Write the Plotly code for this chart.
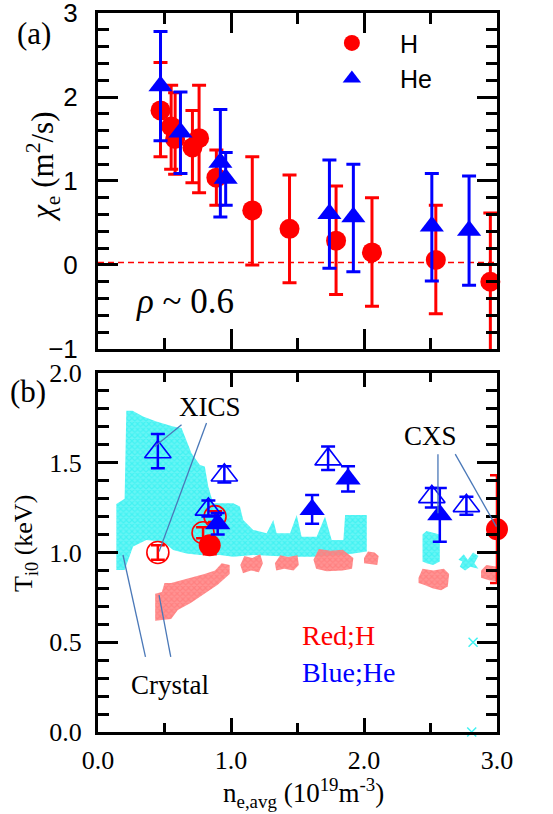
import plotly.graph_objects as go

# ---------------- panel (a): chi_e vs n_e,avg ----------------
H_NE = [0.47, 0.55, 0.58, 0.71, 0.76, 0.89, 1.16, 1.44, 1.79, 2.06, 2.54, 2.95]
H_CHI = [1.84, 1.65, 1.50, 1.40, 1.51, 1.04, 0.65, 0.43, 0.29, 0.15, 0.06, -0.20]
H_HI = [2.41, 2.14, 2.05, 1.84, 2.14, 1.37, 1.29, 1.07, 0.94, 0.80, 0.71, 0.62]
H_LO = [1.29, 1.14, 1.08, 0.98, 0.86, 0.71, 0.00, -0.21, -0.35, -0.49, -0.58, -1.02]

HE_NE = [0.47, 0.62, 0.92, 0.96, 1.74, 1.92, 2.51, 2.79]
HE_CHI = [2.13, 1.58, 1.22, 1.03, 0.61, 0.57, 0.46, 0.41]
HE_HI = [2.78, 2.06, 1.85, 1.34, 1.25, 1.20, 1.09, 1.06]
HE_LO = [1.48, 1.09, 0.57, 0.71, -0.04, -0.08, -0.19, -0.24]

ZERO_LEVEL = 0.03

# ---------------- panel (b): T_i0 vs n_e,avg ----------------
XHE_NE = [0.45, 0.83, 0.95, 1.73, 2.51, 2.77]
XHE_TI = [1.56, 1.24, 1.43, 1.52, 1.31, 1.26]
XHE_HI = [1.66, 1.29, 1.48, 1.59, 1.36, 1.31]
XHE_LO = [1.47, 1.20, 1.39, 1.46, 1.25, 1.21]
CHE_NE = [0.90, 1.61, 1.88, 2.57]
CHE_TI = [1.16, 1.24, 1.41, 1.21]
CHE_HI = [1.22, 1.32, 1.48, 1.36]
CHE_LO = [1.10, 1.16, 1.34, 1.06]
XH_NE = [0.45, 0.79, 0.88]
XH_TI = [1.00, 1.11, 1.20]
XH_HI = [1.04, 1.14, 1.23]
XH_LO = [0.96, 1.08, 1.17]
CH_NE = [0.84, 3.00]
CH_TI = [1.04, 1.13]
CH_HI = [1.08, 1.43]
CH_LO = [0.99, 0.83]

CYAN_MAIN_NE = [0.138, 0.138, 0.20, 0.213, 0.26, 0.339, 0.439, 0.565, 0.628, 0.665, 0.703, 0.766,
                0.803, 0.829, 0.866, 1.017, 1.067, 1.092, 1.167, 1.268, 1.318, 1.343, 1.444,
                1.494, 1.531, 1.644, 1.707, 1.757, 1.845, 1.858, 2.021, 2.021, 1.845, 1.619,
                1.444, 1.167, 1.017, 0.916, 0.766, 0.665, 0.565, 0.49, 0.364, 0.264, 0.226, 0.20]
CYAN_MAIN_TI = [0.903, 1.27, 1.30, 1.79, 1.79, 1.758, 1.73, 1.702, 1.693, 1.628, 1.553, 1.488,
                1.479, 1.367, 1.274, 1.274, 1.256, 1.181, 1.126, 1.107, 1.181, 1.107, 1.107,
                1.209, 1.088, 1.088, 1.20, 1.07, 1.07, 1.209, 1.209, 1.005, 0.986, 0.977,
                0.977, 0.986, 0.977, 0.986, 0.986, 0.995, 1.014, 1.06, 1.07, 1.033, 0.958, 0.902]
CYAN_B1_NE = [2.44, 2.44, 2.47, 2.52, 2.57, 2.57, 2.52, 2.47]
CYAN_B1_TI = [0.95, 1.10, 1.12, 1.11, 1.10, 0.95, 0.93, 0.94]
CYAN_B2_NE = [2.71, 2.75, 2.78, 2.82, 2.86, 2.83, 2.86, 2.80, 2.76, 2.72, 2.74]
CYAN_B2_TI = [0.96, 0.99, 0.96, 1.00, 0.98, 0.94, 0.91, 0.92, 0.90, 0.92, 0.95]
CYAN_PTS_NE = [2.82, 2.81]
CYAN_PTS_TI = [0.50, 0.00]

SAL_A_NE = [0.43, 0.55, 0.60, 0.70, 0.80, 0.90, 0.99, 0.99, 0.93, 0.88, 0.80, 0.70, 0.62, 0.55, 0.50, 0.48, 0.43]
SAL_A_TI = [0.62, 0.63, 0.68, 0.72, 0.77, 0.82, 0.88, 0.93, 0.94, 0.90, 0.88, 0.86, 0.84, 0.83, 0.83, 0.78, 0.77]
SAL_B1_NE = [1.07, 1.10, 1.16, 1.22, 1.24, 1.21, 1.15, 1.09]
SAL_B1_TI = [0.93, 0.98, 0.97, 0.99, 0.94, 0.89, 0.90, 0.885]
SAL_B2_NE = [1.33, 1.37, 1.43, 1.50, 1.51, 1.47, 1.40, 1.34]
SAL_B2_TI = [0.94, 0.985, 0.975, 0.985, 0.93, 0.90, 0.91, 0.90]
SAL_B3_NE = [1.62, 1.66, 1.75, 1.84, 1.92, 1.91, 1.84, 1.72, 1.64]
SAL_B3_TI = [0.96, 1.02, 1.01, 1.015, 0.97, 0.91, 0.90, 0.895, 0.91]
SAL_B4_NE = [2.00, 2.03, 2.08, 2.11, 2.10, 2.04, 2.00]
SAL_B4_TI = [0.97, 1.005, 1.00, 0.98, 0.93, 0.935, 0.94]
SAL_B5_NE = [2.41, 2.44, 2.52, 2.60, 2.64, 2.63, 2.58, 2.52, 2.45, 2.41]
SAL_B5_TI = [0.86, 0.91, 0.90, 0.91, 0.88, 0.81, 0.79, 0.80, 0.82, 0.83]
SAL_B6_NE = [2.88, 2.92, 3.00, 3.00, 2.94, 2.88]
SAL_B6_TI = [0.90, 0.93, 0.92, 0.84, 0.845, 0.86]

XICS_LABEL = (0.84, 1.81)
XICS_LEADS = [((0.628, 1.712), (0.427, 1.591)), ((0.816, 1.721), (0.459, 1.005))]
CXS_LABEL = (2.50, 1.65)
CXS_LEADS = [((2.556, 1.548), (2.556, 1.219)), ((2.686, 1.548), (2.995, 1.144))]
CRYSTAL_LABEL = (0.54, 0.26)
CRYSTAL_LEADS = [((0.357, 0.419), (0.188, 0.986)), ((0.547, 0.419), (0.459, 0.763))]
REDH_LABEL = (1.81, 0.54)
BLUEHE_LABEL = (1.88, 0.33)
RHO_LABEL = (0.654, -0.44)

RED = '#ff0000'
BLUE = '#0000ff'
CYAN = 'rgb(66,242,242)'
SALMON = 'rgb(255,128,128)'
LEAD = '#4a78b8'
INK = 'black'
SERIF = 'Liberation Serif'
SANS = 'Liberation Sans'


def errs(v, hi, lo):
    return [h - y for h, y in zip(hi, v)], [y - l for y, l in zip(v, lo)]


fig = go.Figure()

fig.add_shape(type='line', xref='x', yref='y', x0=0, x1=3, y0=ZERO_LEVEL, y1=ZERO_LEVEL, opacity=1,
              line=dict(color=RED, width=1.5, dash='6px,4px'), layer='below')

p, m = errs(H_CHI, H_HI, H_LO)
fig.add_trace(go.Scatter(x=H_NE, y=H_CHI, mode='markers', name='H', xaxis='x', yaxis='y',
                         marker=dict(symbol='circle', size=20, color=RED),
                         error_y=dict(type='data', array=p, arrayminus=m, color=RED, thickness=3, width=7),
                         cliponaxis=False))
p, m = errs(HE_CHI, HE_HI, HE_LO)
fig.add_trace(go.Scatter(x=HE_NE, y=HE_CHI, mode='markers', name='He', xaxis='x', yaxis='y',
                         marker=dict(symbol='triangle-up', size=21, color=BLUE),
                         error_y=dict(type='data', array=p, arrayminus=m, color=BLUE, thickness=3, width=7),
                         cliponaxis=False))


def cloud(xs, ys, color, bg):
    fig.add_trace(go.Scatter(x=xs, y=ys, mode='lines', fill='toself', xaxis='x2', yaxis='y2',
                             line=dict(width=0, color=color), fillcolor=bg,
                             fillpattern=dict(shape='x', fgcolor=color, bgcolor=bg, size=4, solidity=0.5),
                             hoverinfo='skip', showlegend=False))


cyan_bg = 'rgba(66,242,242,0.8)'
sal_bg = 'rgba(255,128,128,0.85)'
cloud(CYAN_MAIN_NE, CYAN_MAIN_TI, CYAN, cyan_bg)
cloud(CYAN_B1_NE, CYAN_B1_TI, CYAN, cyan_bg)
cloud(CYAN_B2_NE, CYAN_B2_TI, CYAN, cyan_bg)
for xs, ys in [(SAL_A_NE, SAL_A_TI), (SAL_B1_NE, SAL_B1_TI), (SAL_B2_NE, SAL_B2_TI),
               (SAL_B3_NE, SAL_B3_TI), (SAL_B4_NE, SAL_B4_TI), (SAL_B5_NE, SAL_B5_TI),
               (SAL_B6_NE, SAL_B6_TI)]:
    cloud(xs, ys, SALMON, sal_bg)

fig.add_trace(go.Scatter(x=CYAN_PTS_NE, y=CYAN_PTS_TI, mode='markers', xaxis='x2', yaxis='y2',
                         marker=dict(symbol='x-thin', size=9, color=CYAN, line=dict(color=CYAN, width=1.5)),
                         showlegend=False, cliponaxis=False))


def pts(xs, ys, hi, lo, symbol, color, size):
    p, m = errs(ys, hi, lo)
    open_ = symbol.endswith('open')
    fig.add_trace(go.Scatter(x=xs, y=ys, mode='markers', xaxis='x2', yaxis='y2', showlegend=False,
                             marker=dict(symbol=symbol, size=size, color=color,
                                         line=dict(color=color, width=1.6 if open_ else 0)),
                             error_y=dict(type='data', array=p, arrayminus=m, color=color, thickness=2.5, width=7),
                             cliponaxis=False))


pts(XH_NE, XH_TI, XH_HI, XH_LO, 'circle-open', RED, 22)
pts(CH_NE, CH_TI, CH_HI, CH_LO, 'circle', RED, 22)
pts(XHE_NE, XHE_TI, XHE_HI, XHE_LO, 'triangle-up-open', BLUE, 23)
pts(CHE_NE, CHE_TI, CHE_HI, CHE_LO, 'triangle-up', BLUE, 22)

for leads in (XICS_LEADS, CXS_LEADS, CRYSTAL_LEADS):
    for (a, b) in leads:
        fig.add_shape(type='line', xref='x2', yref='y2', x0=a[0], y0=a[1], x1=b[0], y1=b[1], opacity=1,
                      line=dict(color=LEAD, width=1.3))

ann = []
def txt(pos, s, size=27, color='black', xref='x2', yref='y2', angle=0):
    ann.append(dict(x=pos[0], y=pos[1], xref=xref, yref=yref, text=s, showarrow=False, textangle=angle,
                    font=dict(family=SERIF, size=size, color=color), xanchor='center', yanchor='middle'))

txt(XICS_LABEL, 'XICS')
txt(CXS_LABEL, 'CXS')
txt(CRYSTAL_LABEL, 'Crystal')
txt(REDH_LABEL, 'Red;H', 28, RED)
txt(BLUEHE_LABEL, 'Blue;He', 28, BLUE)
txt(RHO_LABEL, '<i>ρ</i> ~ 0.6', 35, xref='x', yref='y')
txt((-0.160, 0.972), '(a)', 31, xref='paper', yref='paper')
txt((-0.175, 0.473), '(b)', 31, xref='paper', yref='paper')
txt((-0.138, 0.786), '<i>χ</i><sub>e</sub> (m<sup>2</sup>/s)', 31, xref='paper', yref='paper', angle=-90)
txt((-0.183, 0.263), 'T<sub>i0</sub> (keV)', 26, xref='paper', yref='paper', angle=-90)
txt((0.514, -0.085), 'n<sub>e,avg</sub> (10<sup>19</sup>m<sup>-3</sup>)', 27, xref='paper', yref='paper')

lib = dict(showline=True, linewidth=3, linecolor=INK, ticks='inside', mirror='ticks',
           tickwidth=3, tickcolor=INK, showgrid=False, zeroline=False, ticklabeloverflow='allow')

fig.update_layout(
    template='none',
    width=553, height=814,
    margin=dict(l=98, r=56, t=13, b=82),
    paper_bgcolor='white', plot_bgcolor='white',
    annotations=ann,
    xaxis=dict(lib, domain=[0, 1], anchor='y', range=[0, 3], dtick=1, tick0=0, ticklen=20,
               showticklabels=False,
               minor=dict(ticks='inside', dtick=0.5, ticklen=11, tickwidth=3, tickcolor=INK)),
    yaxis=dict(lib, domain=[0.5327, 1], anchor='x', range=[-1, 3], dtick=1, tick0=0, ticklen=20,
               tickfont=dict(family=SANS, size=26, color='black'), ticklabelstandoff=12,
               minor=dict(ticks='inside', dtick=0.2, ticklen=11, tickwidth=3, tickcolor=INK)),
    xaxis2=dict(lib, domain=[0, 1], anchor='y2', range=[0, 3], dtick=1, tick0=0, ticklen=14,
                tickformat='.1f', tickfont=dict(family=SERIF, size=26, color='black'), ticklabelstandoff=3,
                minor=dict(ticks='inside', dtick=0.5, ticklen=9, tickwidth=3, tickcolor=INK)),
    yaxis2=dict(lib, domain=[0, 0.4993], anchor='x2', range=[0, 2], dtick=0.5, tick0=0, ticklen=20,
                tickformat='.1f', tickfont=dict(family=SERIF, size=26, color='black'), ticklabelstandoff=8,
                minor=dict(ticks='inside', dtick=0.1, ticklen=11, tickwidth=3, tickcolor=INK)),
    legend=dict(x=0.516, y=0.99, xref='paper', yref='paper', xanchor='left', yanchor='top',
                bgcolor='rgba(0,0,0,0)', font=dict(family=SANS, size=25, color='black'),
                itemsizing='trace', itemwidth=86, tracegroupgap=0),
    showlegend=True,
)

fig.write_html('out.html', post_script="document.body.style.margin='0px';",
               config={'displayModeBar': False})
